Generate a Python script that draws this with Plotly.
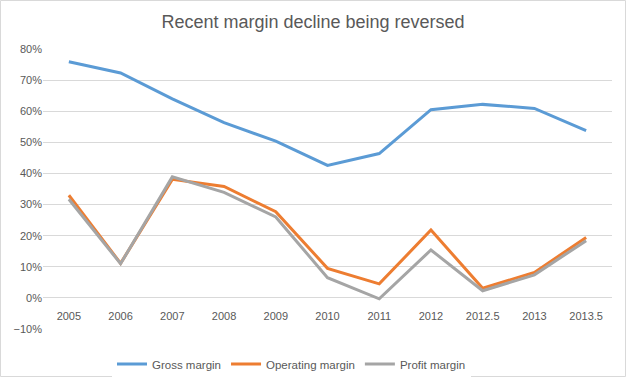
import plotly.graph_objects as go

categories = ["2005", "2006", "2007", "2008", "2009", "2010", "2011", "2012", "2012.5", "2013", "2013.5"]
gross_margin = [75.9, 72.3, 64.0, 56.3, 50.4, 42.6, 46.4, 60.5, 62.2, 60.9, 53.8]
operating_margin = [33.0, 11.1, 38.1, 35.8, 27.7, 9.5, 4.5, 21.8, 3.1, 8.2, 19.4]
profit_margin = [31.7, 11.0, 38.9, 33.9, 26.0, 6.5, -0.3, 15.4, 2.3, 7.4, 18.4]

series = [
    ("Gross margin", gross_margin, "#5B9BD5"),
    ("Operating margin", operating_margin, "#ED7D31"),
    ("Profit margin", profit_margin, "#A5A5A5"),
]

fig = go.Figure()
for name, vals, color in series:
    fig.add_trace(go.Scatter(x=categories, y=vals, name=name, mode="lines",
                             line=dict(color=color, width=3)))

W, H = 626, 377
L, R, T, B = 43, 14, 49, 48
pw, ph = W - L - R, H - T - B

def px_x(p):
    return (p - L) / pw

def px_y(p):
    return (H - B - p) / ph

fig.update_layout(
    width=W, height=H,
    margin=dict(l=L, r=R, t=T, b=B, autoexpand=False),
    paper_bgcolor="white", plot_bgcolor="white",
    font=dict(family="Liberation Sans, Arial, sans-serif", color="#595959", size=11),
    title=dict(text="Recent margin decline being reversed", x=0.5, xanchor="center",
               y=1 - 22 / H, yanchor="middle", yref="container",
               font=dict(size=18, color="#595959")),
    xaxis=dict(type="category", range=[-0.5, len(categories) - 0.5],
               showgrid=False, showline=False, zeroline=False,
               ticks="outside", ticklen=8, tickcolor="rgba(0,0,0,0)",
               anchor="free", position=1 / 9, automargin=False,
               tickfont=dict(size=11, color="#595959")),
    yaxis=dict(range=[-10, 80], dtick=10, ticksuffix="%", showgrid=True, gridcolor="#D9D9D9",
               gridwidth=1, zeroline=False, showline=False, automargin=False,
               tickfont=dict(size=11, color="#595959")),
    legend=dict(orientation="h", x=px_x(112), xanchor="left", y=px_y(364), yanchor="middle",
                font=dict(size=11.5, color="#595959"), itemwidth=30),
    showlegend=True,
    shapes=[dict(type="rect", xref="paper", yref="paper",
                 x0=px_x(0.5), x1=px_x(625.5), y0=px_y(376.5), y1=px_y(0.5),
                 line=dict(color="#D9D9D9", width=1), fillcolor="rgba(0,0,0,0)", layer="below")],
)

fig.write_html("out.html", config={"displayModeBar": False},
               post_script="document.body.style.margin='0';document.body.style.overflow='hidden';")
